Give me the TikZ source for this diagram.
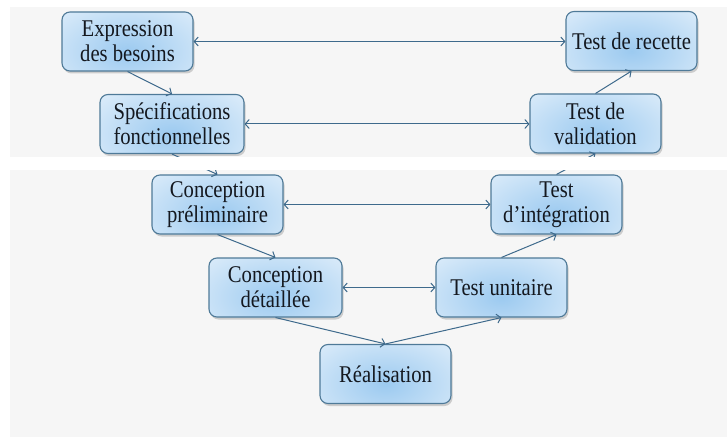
\documentclass[tikz,border=0pt]{standalone}
\usepackage{fontspec}
\setmainfont{Liberation Serif}[FakeStretch=0.86]
\usetikzlibrary{arrows.meta,shadows}

\definecolor{pagegrey}{HTML}{F6F6F6}
\definecolor{boxline}{HTML}{4F7A98}
\definecolor{boxblue}{HTML}{9CCAF0}
\definecolor{boxpale}{HTML}{EBF4FC}
\definecolor{linkcol}{HTML}{3E6A8C}
\definecolor{inkcol}{HTML}{14181F}

\tikzset{
  phase/.style={
    draw=boxline, line width=1.1pt, rounded corners=8pt,
    minimum width=131pt, minimum height=59pt, inner sep=2pt,
    align=center, text=inkcol,
    font=\fontsize{24}{25}\selectfont,
    fill=boxpale,
    drop shadow={opacity=0.35, shadow xshift=1.5pt, shadow yshift=-2.5pt},
    path picture={
      \shade[inner color=boxblue, outer color=boxpale]
        ([yshift=-10pt]path picture bounding box.center)
        ellipse [x radius=120pt, y radius=70pt];
    }
  },
  link/.style={draw=linkcol, line width=1pt,
    -{Straight Barb[length=4pt,width=9pt]}},
  twoway/.style={draw=linkcol, line width=1pt,
    {Straight Barb[length=4pt,width=9pt]}-{Straight Barb[length=4pt,width=9pt]}}
}

\begin{document}
\begin{tikzpicture}[x=1pt,y=-1pt]
  % page and background panels
  \fill[white] (0,0) rectangle (727,438);
  \useasboundingbox (0,0) rectangle (727,438);
  \fill[pagegrey] (10,7) rectangle (727,437);

  % left branch of the V
  \node[phase] (exp)   at (127.5,41.5) {Expression\\des besoins};
  \node[phase, minimum width=144pt] (spec) at (172,124) {Spécifications\\fonctionnelles};
  \node[phase] (cprel) at (217.5,204.5) {Conception\\préliminaire};
  \node[phase, minimum width=133pt] (cdet) at (275.5,287.5) {Conception\\détaillée};
  \node[phase] (real)  at (385.5,374) {Réalisation};

  % right branch of the V
  \node[phase] (tu) at (501.5,287.5) {Test unitaire};
  \node[phase] (ti) at (556.5,204.5) {Test\\d’intégration};
  \node[phase] (tv) at (595.5,123.5) {Test de\\validation};
  \node[phase] (tr) at (631.5,41) {Test de recette};

  % descending flow
  \draw[link] (exp.south)   -- (spec.north);
  \draw[link] (spec.south)  -- (cprel.north);
  \draw[link] (cprel.south) -- (cdet.north);
  \draw[link] (cdet.south)  -- (real.north);

  % ascending flow
  \draw[link] (real.north) -- (tu.south);
  \draw[link] (tu.north)   -- (ti.south);
  \draw[link] (ti.north)   -- (tv.south);
  \draw[link] (tv.north)   -- (tr.south);

  % correspondence between levels
  \draw[twoway] (exp.east)   -- (exp.east -| tr.west);
  \draw[twoway] (spec.east)  -- (spec.east -| tv.west);
  \draw[twoway] (cprel.east) -- (cprel.east -| ti.west);
  \draw[twoway] (cdet.east)  -- (cdet.east -| tu.west);

  % white strip between the two panels
  \fill[white] (0,157) rectangle (727,170);
\end{tikzpicture}
\end{document}
